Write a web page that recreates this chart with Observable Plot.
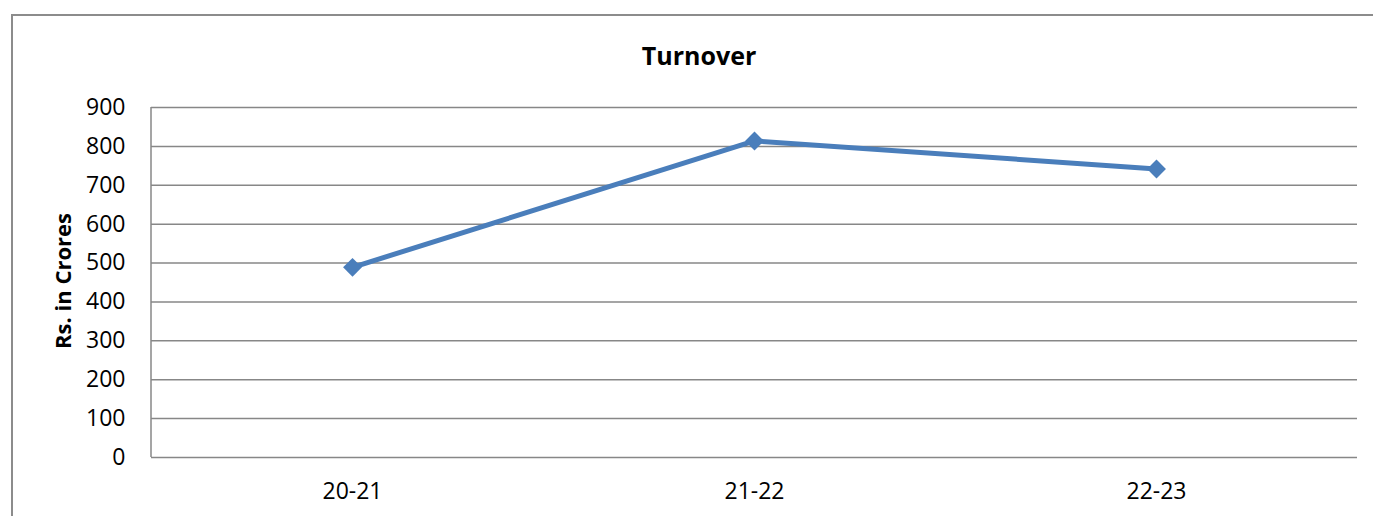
<!DOCTYPE html>
<html>
<head>
<meta charset="utf-8">
<script src="https://cdn.jsdelivr.net/npm/d3@7"></script>
<script src="https://cdn.jsdelivr.net/npm/@observablehq/plot@0.6"></script>
<style>
  html, body { margin: 0; padding: 0; background: #fff; overflow: hidden; }
  #wrap { position: relative; width: 1373px; height: 516px; overflow: hidden; font-family: "Open Sans", sans-serif; }
  #border { position: absolute; left: 11px; top: 14px; width: 1400px; height: 600px; border: 2px solid #8c8c8c; box-sizing: border-box; pointer-events: none; }
  #title { position: absolute; left: 699px; top: 43px; transform: translateX(-50%); font-size: 25px; line-height: 25px; font-weight: 700; color: #000; white-space: nowrap; }
  #ylabel { position: absolute; left: 62px; top: 281px; transform: translate(-50%, -50%) rotate(-90deg); font-size: 22px; line-height: 22px; font-weight: 700; color: #000; white-space: nowrap; }
  #chart { position: absolute; left: 0; top: 0; }
</style>
</head>
<body>
<div id="wrap">
  <div id="border"></div>
  <div id="chart"></div>
  <div id="title">Turnover</div>
  <div id="ylabel">Rs. in Crores</div>
</div>
<script>
const titleText = "Turnover";
const yLabel = "Rs. in Crores";
const years = ["20-21", "21-22", "22-23"];
const turnover = [489, 814, 742];
const yTicks = [0, 100, 200, 300, 400, 500, 600, 700, 800, 900];

const data = years.map((y, i) => ({year: y, value: turnover[i]}));
const lineColor = "#4A7EBB";
const gridColor = "#878787";

const leftAxisLine = (index, scales, values, dims) => {
  const g = document.createElementNS("http://www.w3.org/2000/svg", "line");
  const x = dims.marginLeft;
  g.setAttribute("x1", x);
  g.setAttribute("x2", x);
  g.setAttribute("y1", scales.y(900));
  g.setAttribute("y2", scales.y(0));
  g.setAttribute("stroke", gridColor);
  g.setAttribute("stroke-width", 1.5);
  return g;
};

const chart = Plot.plot({
  width: 1373,
  height: 516,
  marginLeft: 151,
  marginRight: 16,
  marginTop: 107,
  marginBottom: 59,
  style: {fontFamily: "'Open Sans', sans-serif", fontSize: "23px", color: "#000", background: "transparent"},
  x: {type: "point", domain: years, padding: 0.5, label: null},
  y: {domain: [0, 900], label: null},
  marks: [
    Plot.gridY(yTicks, {stroke: gridColor, strokeOpacity: 1, strokeWidth: 1.5}),
    leftAxisLine,
    Plot.axisY(yTicks, {tickSize: 0, tickPadding: 26, label: null, fontSize: 23}),
    Plot.axisX({tickSize: 0, tickPadding: 25, label: null, fontSize: 23}),
    Plot.lineY(data, {x: "year", y: "value", stroke: lineColor, strokeWidth: 5}),
    Plot.dot(data, {x: "year", y: "value", symbol: "diamond2", r: 8.5, fill: lineColor, stroke: "none"})
  ]
});
document.getElementById("chart").appendChild(chart);
document.getElementById("title").textContent = titleText;
document.getElementById("ylabel").textContent = yLabel;
</script>
</body>
</html>
